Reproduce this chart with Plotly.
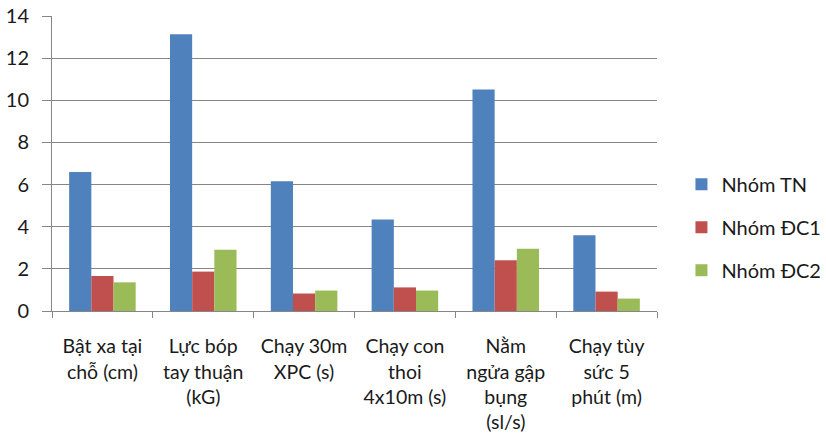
import plotly.graph_objects as go

categories = ["Bật xa tại<br>chỗ (cm)", "Lực bóp<br>tay thuận<br>(kG)", "Chạy 30m<br>XPC (s)",
              "Chạy con<br>thoi<br>4x10m (s)", "Nằm<br>ngửa gập<br>bụng<br>(sl/s)", "Chạy tùy<br>sức 5<br>phút (m)"]
series_names = ["Nhóm TN", "Nhóm ĐC1", "Nhóm ĐC2"]
tn = [6.60, 13.13, 6.16, 4.34, 10.51, 3.59]
dc1 = [1.66, 1.87, 0.83, 1.12, 2.41, 0.92]
dc2 = [1.36, 2.91, 0.97, 0.97, 2.96, 0.59]
colors = ["#4F81BD", "#C0504D", "#9BBB59"]
y_ticks = [0, 2, 4, 6, 8, 10, 12, 14]

fig = go.Figure()
for name, vals, c, g in zip(series_names, [tn, dc1, dc2], colors, ["a", "b", "c"]):
    fig.add_trace(go.Bar(x=categories, y=vals, name=name, legendgroup=g,
                         marker=dict(color=c, line=dict(width=0))))

font = "Lato, 'Open Sans', sans-serif"
fig.update_layout(
    width=826, height=436,
    margin=dict(l=52, r=169, t=16, b=125),
    paper_bgcolor="white", plot_bgcolor="white",
    barmode="group", bargap=0.34, bargroupgap=0,
    font=dict(family=font, size=19, color="#1a1a1a"),
    showlegend=True,
    legend=dict(xref="container", yref="container", x=0.825, y=0.479,
                xanchor="left", yanchor="middle",
                font=dict(family=font, size=20), tracegroupgap=14, itemwidth=30),
)
fig.update_xaxes(showline=True, linecolor="#868686", linewidth=1, automargin=False,
                 ticks="outside", tickson="boundaries", ticklen=6, tickcolor="#868686",
                 showgrid=False, tickangle=0, ticklabelstandoff=18,
                 tickfont=dict(family=font, size=19.5))
fig.update_yaxes(range=[0, 14], tickvals=y_ticks, showline=True, linecolor="#868686", linewidth=1,
                 automargin=False,
                 ticks="outside", ticklen=9, tickcolor="#868686",
                 showgrid=True, gridcolor="#868686", gridwidth=1, zeroline=False,
                 ticklabelstandoff=9, tickfont=dict(family=font, size=20))

post = ("document.body.style.margin='0';"
        "document.documentElement.style.overflow='hidden';"
        "document.body.style.overflow='hidden';"
        "var gd=document.getElementById('{plot_id}');"
        "Plotly.relayout(gd,{width:826,height:436});")
fig.write_html("out.html", post_script=post, config={"displayModeBar": False})
